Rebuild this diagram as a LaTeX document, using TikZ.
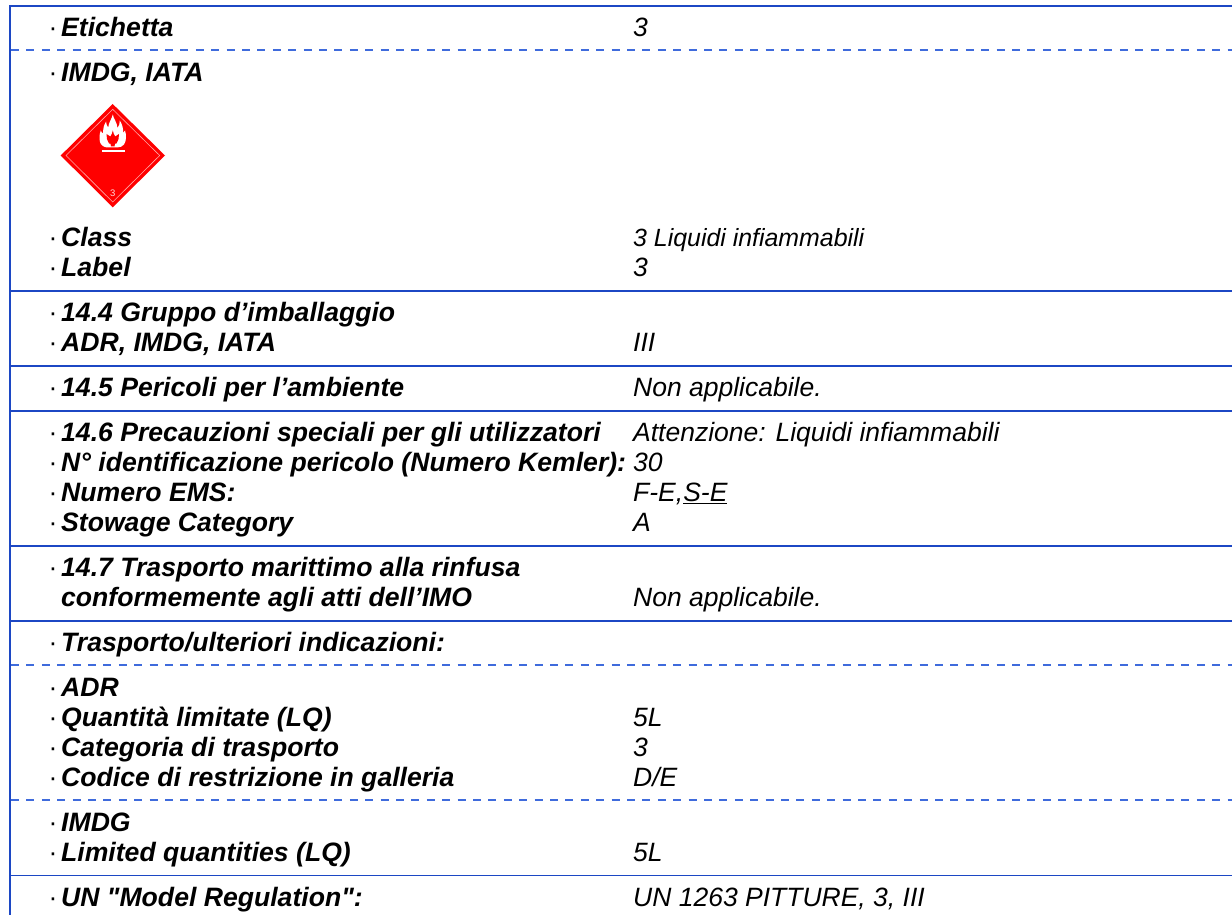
\documentclass[tikz,border=0pt]{standalone}
\usepackage{fontspec}
\setmainfont{Liberation Sans}[Ligatures=TeXOff]
\definecolor{rule}{HTML}{1C47C4}
\definecolor{dashrule}{HTML}{3F6BDC}
\definecolor{hazard}{HTML}{FF0000}
\tikzset{
  x=1pt,y=-1pt,
  keytext/.style={anchor=base west,inner sep=0pt,font=\fontsize{26.6}{30}\selectfont\bfseries\itshape},
  valtext/.style={anchor=base west,inner sep=0pt,font=\fontsize{26.5}{30}\selectfont\itshape},
  smallval/.style={anchor=base west,inner sep=0pt,font=\fontsize{24.9}{30}\selectfont\itshape},
  dottext/.style={anchor=base west,inner sep=0pt,font=\fontsize{26.5}{30}\selectfont},
  solidrule/.style={draw=rule,line width=1.7pt},
  dashedrule/.style={draw=dashrule,line width=1.3pt,dash pattern=on 8pt off 7.4pt},
}
\newcommand{\krow}[3]{%
  \node[dottext] (d#1) at (48.5,#2) {·};
  \node[keytext] (k#1) at (61,#2) {#3};}
\newcommand{\vrow}[3]{\node[valtext] (v#1) at (633,#2) {#3};}
\begin{document}
\begin{tikzpicture}
\useasboundingbox (0,0) rectangle (1232,915);
\fill[white] (0,0) rectangle (1232,915);
\draw[solidrule] (10,915) -- (10,5.7) -- (1232,5.7);
\foreach \y in {290.7,365.7,410.7,545.7,620.7,875.4}{\draw[solidrule] (10,\y) -- (1232,\y);}
\foreach \y in {50,665,800}{\draw[dashedrule] (11,\y) -- (1232,\y);}
\krow{a}{36.7}{Etichetta}\vrow{a}{36.7}{3}
\krow{b}{81.7}{IMDG, IATA}
\krow{c}{246.7}{Class}\node[smallval] (vc) at (633,246.7) {3 Liquidi infiammabili};
\krow{d}{276.7}{Label}\vrow{d}{276.7}{3}
\krow{e}{321.7}{14.4 Gruppo d’imballaggio}
\krow{f}{351.7}{ADR, IMDG, IATA}\vrow{f}{351.7}{III}
\krow{g}{396.7}{14.5 Pericoli per l’ambiente}\vrow{g}{396.7}{Non applicabile.}
\krow{h}{441.7}{14.6 Precauzioni speciali per gli utilizzatori}\vrow{h}{441.7}{Attenzione: Liquidi infiammabili}
\krow{i}{471.7}{N° identificazione pericolo (Numero Kemler):}\vrow{i}{471.7}{30}
\krow{j}{501.7}{Numero EMS:}\vrow{j}{501.7}{F-E,\underline{S-E}}
\krow{k}{531.7}{Stowage Category}\vrow{k}{531.7}{A}
\krow{l}{576.7}{14.7 Trasporto marittimo alla rinfusa}
\node[keytext] (kl2) at (61,606.7) {conformemente agli atti dell’IMO};\vrow{l}{606.7}{Non applicabile.}
\krow{m}{651.7}{Trasporto/ulteriori indicazioni:}
\krow{n}{696.7}{ADR}
\krow{o}{726.7}{Quantità limitate (LQ)}\vrow{o}{726.7}{5L}
\krow{p}{756.7}{Categoria di trasporto}\vrow{p}{756.7}{3}
\krow{q}{786.7}{Codice di restrizione in galleria}\vrow{q}{786.7}{D/E}
\krow{r}{831.7}{IMDG}
\krow{s}{861.7}{Limited quantities (LQ)}\vrow{s}{861.7}{5L}
\krow{t}{906.7}{UN "Model Regulation":}\vrow{t}{906.7}{UN 1263 PITTURE, 3, III}
% placard
\fill[hazard] (112.7,104) -- (165,155.5) -- (112.7,207.3) -- (60.7,155.5) -- cycle;
\draw[white!65!hazard,line width=0.6pt] (112.7,109.3) -- (159.7,155.5) -- (112.7,202) -- (66,155.5) -- cycle;
% flame
\fill[white] (112.8,114.5) .. controls (113.5,119) and (117,122) .. (117.5,128)
  .. controls (119,126) and (120,123.5) .. (119.8,120.5)
  .. controls (122,124) and (123.5,128) .. (123,133)
  .. controls (124,132.5) and (124.8,131.5) .. (125,130.5)
  .. controls (126.5,135) and (126.5,141) .. (124,144.5)
  .. controls (122.5,146.5) and (120,147.5) .. (117,147.5)
  -- (108,147.5)
  .. controls (104,147.5) and (101,145.5) .. (100,142)
  .. controls (99,138) and (99.5,134) .. (100.8,130.5)
  .. controls (101.5,132) and (102,133) .. (103.2,133.5)
  .. controls (102.8,129) and (104,125) .. (106,121.5)
  .. controls (106.2,124) and (107,126) .. (108.2,127.5)
  .. controls (108.5,123) and (111.5,119.5) .. (112.8,114.5) -- cycle;
\fill[hazard] (112.8,130.5) .. controls (113.2,133) and (114.2,135) .. (115.2,136.5)
  .. controls (116.5,136) and (118,135) .. (119,134)
  .. controls (119,137.5) and (118.5,141) .. (116.5,143.5)
  -- (115,143.8) -- (114.5,146.5) -- (111,146.5) -- (110.5,143.8) -- (109,143.5)
  .. controls (107,141) and (106.5,137.5) .. (106.5,134)
  .. controls (107.5,135) and (109,136) .. (110.4,136.5)
  .. controls (111.4,135) and (112.4,133) .. (112.8,130.5) -- cycle;
\fill[white] (102.3,150) rectangle (125.2,152.4);
\node[inner sep=0pt,text=white!85!hazard,font=\fontsize{9.5}{10}\selectfont] (pn) at (112.7,193.3) {3};
\end{tikzpicture}
\end{document}
